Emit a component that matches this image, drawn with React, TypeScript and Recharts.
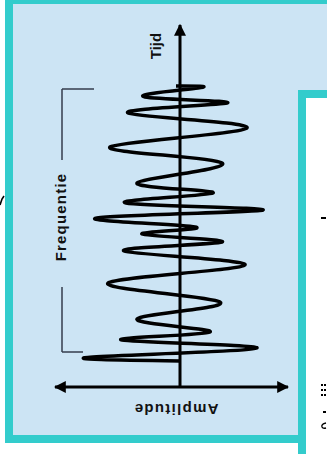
import { ScatterChart, Scatter, XAxis, YAxis, ReferenceLine } from 'recharts'

// ─── Data ─────────────────────────────────────────────────────────────────────

// time runs up the vertical axis, amplitude left (−) / right (+) of it
const TIME = [
  301, 299, 290, 284, 274, 259, 240, 224, 204, 194, 184, 177, 169,
  160, 153, 145, 136, 122, 104, 85, 68, 55, 47, 39, 30, 26,
]
const AMPLITUDE = [
  -4, 18, -35, 47, -52, 67, -70, 42, -43, 33, -54, 83, -83,
  15, -38, 42, -56, 65, -72, 40, -43, 30, -58, 77, -87, 0,
]

const wave = TIME.map((t, i) => ({ t, amp: AMPLITUDE[i] }))

const AXIS_TOP = 362
const AMP_MIN = -125
const AMP_MAX = 108

// ─── Styles ───────────────────────────────────────────────────────────────────

const CYAN = '#33cccc'
const SKY = '#cce4f4'
const INK = '#000000'
const BRACKET = '#343c4c'
const FONT = '"Liberation Sans", Arial, sans-serif'

function ArrowLine(props: any) {
  const { x1, y1, x2, y2, both } = props
  return (
    <line
      x1={x1} y1={y1} x2={x2} y2={y2}
      stroke={INK} strokeWidth={3}
      markerEnd="url(#arrowHead)"
      markerStart={both ? 'url(#arrowTail)' : undefined}
    />
  )
}

function PlainLine(props: any) {
  const { x1, y1, x2, y2 } = props
  return <line x1={x1} y1={y1} x2={x2} y2={y2} stroke={BRACKET} strokeWidth={1.5} />
}

const label: React.CSSProperties = {
  position: 'absolute',
  fontFamily: FONT,
  fontWeight: 700,
  fontSize: 15,
  color: '#111',
  whiteSpace: 'nowrap',
  lineHeight: '15px',
}

export default function App() {
  return (
    <div style={{ position: 'absolute', left: 0, top: 0, width: 327, height: 454, overflow: 'hidden', background: '#fff' }}>
      {/* left panel */}
      <div style={{ position: 'absolute', left: 5, top: -4, width: 420, height: 447, boxSizing: 'border-box', border: `8px solid ${CYAN}`, background: SKY }} />

      <div style={{ position: 'absolute', left: 0, top: 0 }}>
        <ScatterChart width={327} height={454} margin={{ top: 0, right: 0, bottom: 0, left: 0 }}>
          <defs>
            <marker id="arrowHead" viewBox="0 0 10 10" refX="9" refY="5" markerWidth="4" markerHeight="4" orient="auto">
              <path d="M0,0 L10,5 L0,10 Z" fill={INK} />
            </marker>
            <marker id="arrowTail" viewBox="0 0 10 10" refX="1" refY="5" markerWidth="4" markerHeight="4" orient="auto">
              <path d="M10,0 L0,5 L10,10 Z" fill={INK} />
            </marker>
          </defs>
          <XAxis type="number" dataKey="amp" domain={[-180, 147]} hide allowDataOverflow />
          <YAxis type="number" dataKey="t" domain={[-67, 387]} hide allowDataOverflow />

          {/* Frequentie bracket */}
          <ReferenceLine segment={[{ x: -118, y: 298 }, { x: -118, y: 227 }]} shape={PlainLine} />
          <ReferenceLine segment={[{ x: -118, y: 298 }, { x: -86, y: 298 }]} shape={PlainLine} />
          <ReferenceLine segment={[{ x: -118, y: 100 }, { x: -118, y: 35 }]} shape={PlainLine} />
          <ReferenceLine segment={[{ x: -118, y: 35 }, { x: -97, y: 35 }]} shape={PlainLine} />

          <Scatter
            data={wave}
            fill={INK}
            line={{ stroke: INK, strokeWidth: 3.5 }}
            lineJointType="natural"
            shape={() => <g />}
            isAnimationActive={false}
          />

          {/* axes */}
          <ReferenceLine segment={[{ x: 0, y: 0 }, { x: 0, y: AXIS_TOP }]} shape={(p: any) => <ArrowLine {...p} />} />
          <ReferenceLine segment={[{ x: AMP_MIN, y: 0 }, { x: AMP_MAX, y: 0 }]} shape={(p: any) => <ArrowLine {...p} both />} />
        </ScatterChart>
      </div>

      <span style={{ ...label, left: 155, top: 46, transform: 'translate(-50%, -50%) rotate(-90deg)' }}>Tijd</span>
      <span style={{ ...label, left: 60, top: 217, letterSpacing: 1.2, transform: 'translate(-50%, -50%) rotate(-90deg)' }}>Frequentie</span>
      <span style={{ ...label, left: 176, top: 409, letterSpacing: 1.3, transform: 'translate(-50%, -50%) rotate(180deg)' }}>Amplitude</span>

      {/* right panel, overlapping */}
      <div style={{ position: 'absolute', left: 298, top: 90, width: 200, height: 500, boxSizing: 'border-box', border: `8px solid ${CYAN}`, background: '#fff' }} />

      {/* cut-off fragments at the page edges */}
      <svg width={327} height={454} style={{ position: 'absolute', left: 0, top: 0, pointerEvents: 'none' }}>
        <path d="M0,205 L2,199 L4,196" stroke={INK} strokeWidth={1.6} fill="none" />
        <rect x={321} y={217} width={5} height={2} fill={INK} />
        {[384, 389, 394].map((y) => (
          <g key={y}>
            <rect x={321} y={y} width={2} height={2} fill={INK} />
            <rect x={324} y={y} width={2} height={2} fill={INK} />
          </g>
        ))}
        <rect x={323} y={411} width={3} height={2} fill={INK} />
        <path d="M326,423 Q321,424 322,427 Q323,429 326,428" stroke={INK} strokeWidth={1.4} fill="none" />
      </svg>
    </div>
  )
}
